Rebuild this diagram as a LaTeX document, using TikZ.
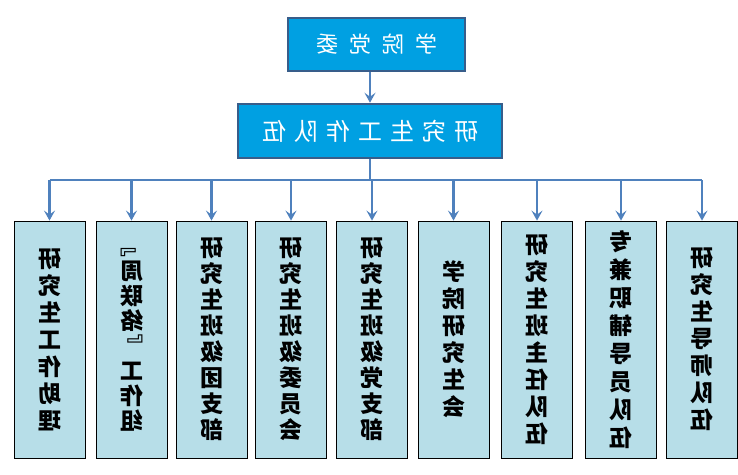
\documentclass[tikz,border=0pt]{standalone}
\usepackage{fontspec}
\setmainfont{Noto Sans CJK SC}
\usetikzlibrary{arrows.meta}
\definecolor{headblue}{RGB}{0,160,226}
\definecolor{headline}{RGB}{56,93,138}
\definecolor{linkblue}{RGB}{79,129,189}
\definecolor{colfill}{RGB}{183,222,232}

\tikzset{
  headbox/.style={draw=headline, line width=2.5pt, fill=headblue, text=white, inner sep=0pt, xscale=-1},
  colbox/.style={draw=black, line width=0.8pt, fill=colfill, minimum width=71pt, minimum height=237pt, inner sep=0pt, align=center, xscale=-1},
  link/.style={draw=linkblue, line width=2.5pt},
  tip/.style={-{Stealth[length=10pt,width=11pt,inset=4pt]}}
}

\begin{document}
\begin{tikzpicture}[x=1pt,y=-1pt]
\useasboundingbox (0,0) rectangle (738,474);

% top levels
\node[headbox, minimum width=177pt, minimum height=53pt, font=\fontsize{22}{26}\selectfont] (committee) at (376.5,44.5)
  {学\hspace{11pt}院\hspace{11pt}党\hspace{11pt}委};
\node[headbox, minimum width=264pt, minimum height=54pt, font=\fontsize{24}{28}\selectfont] (team) at (370,131)
  {研\hspace{8pt}究\hspace{8pt}生\hspace{8pt}工\hspace{8pt}作\hspace{8pt}队\hspace{8pt}伍};

% the nine columns
\foreach \x/\s/\t [count=\i] in {
  49.5/27/{研\\究\\生\\工\\作\\助\\理},
  131.5/25/{﹃\\周\\联\\络\\﹄\\工\\作\\组},
  211.5/26/{研\\究\\生\\班\\级\\团\\支\\部},
  291/26/{研\\究\\生\\班\\级\\委\\员\\会},
  372/26/{研\\究\\生\\班\\级\\党\\支\\部},
  453.5/27/{学\\院\\研\\究\\生\\会},
  537/27/{研\\究\\生\\班\\主\\任\\队\\伍},
  621/28/{专\\兼\\职\\辅\\导\\员\\队\\伍},
  702/27/{研\\究\\生\\导\\师\\队\\伍}}
  \node[colbox, font=\fontsize{23}{\s}\selectfont\bfseries] (c\i) at (\x,339.5) {\t};

% connectors
\coordinate (bus) at (372,180);
\draw[link, tip] (team.north |- committee.south) -- (team.north);
\draw[link] (team.south) -- (team.south |- bus);
\draw[link, line width=2pt] (c1.north |- bus) -- (c9.north |- bus);
\foreach \i in {1,...,9}
  \draw[link, tip] (c\i.north |- bus) -- (c\i.north);

\end{tikzpicture}
\end{document}
